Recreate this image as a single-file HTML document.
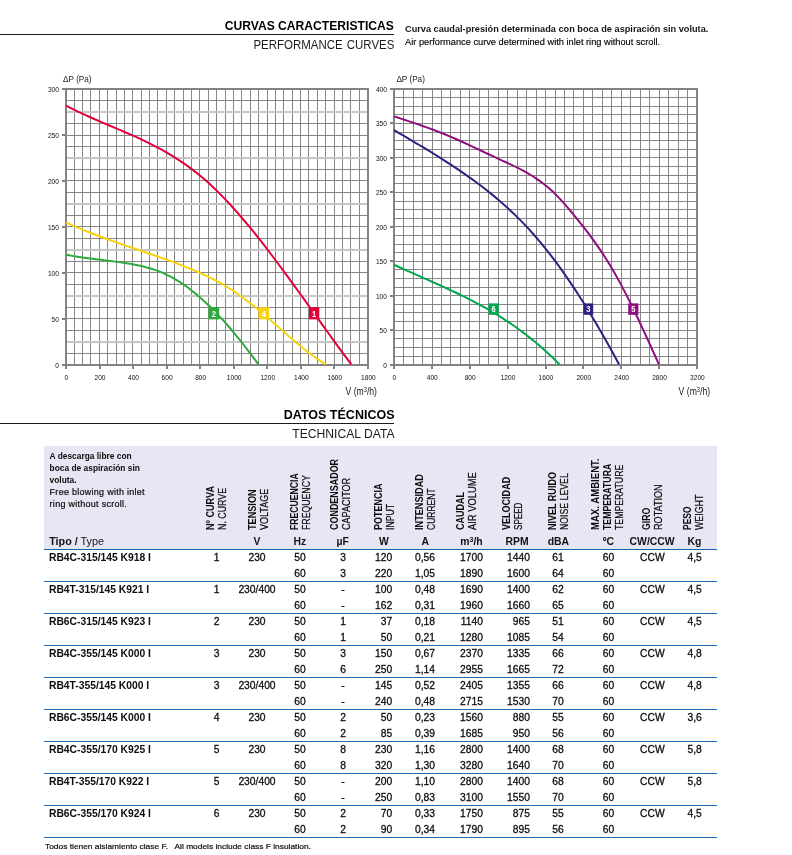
<!DOCTYPE html>
<html lang="es">
<head>
<meta charset="utf-8">
<title>Curvas características / Performance curves</title>
<style>
html,body{margin:0;padding:0;background:#fff;}
body{width:792px;height:855px;position:relative;overflow:hidden;font-family:"Liberation Sans",sans-serif;color:#111;}
.abs{position:absolute;white-space:nowrap;}
.h1{position:absolute;right:397.8px;font-weight:bold;font-size:12.6px;line-height:14px;color:#000;white-space:nowrap;transform-origin:100% 50%;}
.h2{position:absolute;right:397.8px;font-size:12.9px;line-height:14px;color:#1c1c1c;white-space:nowrap;transform-origin:100% 50%;}
.rule{position:absolute;left:0;width:394.3px;height:1.1px;background:#1a1a1a;}
.note{position:absolute;left:404.6px;font-size:9.9px;line-height:11px;white-space:nowrap;transform-origin:0 50%;color:#161616;}
svg text{font-family:"Liberation Sans",sans-serif;}
svg .tk{font-size:7.4px;fill:#111;}
svg .at{font-size:9.2px;fill:#1a1a1a;}
svg .at2{font-size:10.1px;fill:#1a1a1a;}
#tbl{position:absolute;left:44px;top:445.5px;width:673.2px;height:392.4px;}
#thead{position:absolute;left:0;top:0;width:673.2px;height:103.3px;background:#e6e6f4;}
#hrule{position:absolute;left:0;top:103.1px;width:673.2px;height:1.7px;background:#1263af;}
.tr{position:absolute;left:0;width:673.2px;height:1.1px;background:#1a6ab4;}
.td{position:absolute;font-size:10.3px;line-height:13px;height:13px;white-space:nowrap;color:#0c0c0c;-webkit-text-stroke:0.28px #0c0c0c;}
.td.b{-webkit-text-stroke:0;}
.b{font-weight:bold;}
.intro{position:absolute;left:5.6px;top:4.7px;font-size:9px;letter-spacing:0.27px;line-height:12px;color:#0c0c0c;white-space:nowrap;-webkit-text-stroke:0.2px #0c0c0c;}
.intro b{font-size:8.4px;letter-spacing:0;-webkit-text-stroke:0;}
.tipo{position:absolute;left:5.2px;top:89.6px;font-size:10.8px;line-height:13px;color:#141414;white-space:nowrap;}
.vt{position:absolute;font-size:10.4px;line-height:12px;height:12px;white-space:nowrap;transform-origin:0 0;transform:rotate(-90deg) scaleX(0.84);color:#0c0c0c;-webkit-text-stroke:0.22px #0c0c0c;}
.vt.b{-webkit-text-stroke:0;}
.un{position:absolute;top:89.6px;width:60px;text-align:center;font-weight:bold;font-size:10.4px;line-height:13px;color:#141414;white-space:nowrap;}
.un sup{font-size:7px;line-height:0;vertical-align:3.4px;}
.foot{position:absolute;left:44.7px;top:842.2px;font-size:7.9px;line-height:10px;color:#0c0c0c;white-space:pre;transform-origin:0 50%;transform:scaleX(1.062);-webkit-text-stroke:0.2px #0c0c0c;}
</style>
</head>
<body>
<div class="h1" style="top:18.6px;transform:scaleX(0.962)">CURVAS CARACTERISTICAS</div>
<div class="rule" style="top:34px"></div>
<div class="h2" style="top:38px;transform:scaleX(0.89);word-spacing:1px">PERFORMANCE CURVES</div>
<div class="note b" style="top:23.2px;transform:scaleX(0.929)">Curva caudal-presión determinada con boca de aspiración sin voluta.</div>
<div class="note" style="top:35.6px;transform:scaleX(0.937);color:#000;-webkit-text-stroke:0.15px #000">Air performance curve determined with inlet ring without scroll.</div>

<svg class="abs" style="left:0;top:0" width="792" height="400" viewBox="0 0 792 400">
<g id="chart1">
<path d="M74.5,89.0 V365.0 M82.5,89.0 V365.0 M90.5,89.0 V365.0 M99.5,89.0 V365.0 M107.5,89.0 V365.0 M116.5,89.0 V365.0 M124.5,89.0 V365.0 M132.5,89.0 V365.0 M141.5,89.0 V365.0 M149.5,89.0 V365.0 M157.5,89.0 V365.0 M166.5,89.0 V365.0 M174.5,89.0 V365.0 M183.5,89.0 V365.0 M191.5,89.0 V365.0 M199.5,89.0 V365.0 M208.5,89.0 V365.0 M216.5,89.0 V365.0 M225.5,89.0 V365.0 M233.5,89.0 V365.0 M241.5,89.0 V365.0 M250.5,89.0 V365.0 M258.5,89.0 V365.0 M267.5,89.0 V365.0 M275.5,89.0 V365.0 M283.5,89.0 V365.0 M292.5,89.0 V365.0 M300.5,89.0 V365.0 M308.5,89.0 V365.0 M317.5,89.0 V365.0 M325.5,89.0 V365.0 M334.5,89.0 V365.0 M342.5,89.0 V365.0 M350.5,89.0 V365.0 M359.5,89.0 V365.0 M66.0,100.5 H368.0 M66.0,123.5 H368.0 M66.0,135.5 H368.0 M66.0,146.5 H368.0 M66.0,169.5 H368.0 M66.0,180.5 H368.0 M66.0,192.5 H368.0 M66.0,215.5 H368.0 M66.0,226.5 H368.0 M66.0,238.5 H368.0 M66.0,261.5 H368.0 M66.0,272.5 H368.0 M66.0,284.5 H368.0 M66.0,307.5 H368.0 M66.0,318.5 H368.0 M66.0,330.5 H368.0 M66.0,353.5 H368.0" stroke="#868686" stroke-width="1" fill="none"/>
<path d="M66.0,112.0 H368.0 M66.0,158.0 H368.0 M66.0,204.0 H368.0 M66.0,250.0 H368.0 M66.0,296.0 H368.0 M66.0,342.0 H368.0" stroke="#c6c6c6" stroke-width="2" fill="none"/>
<path d="M66.0,89.0 H368.0 V365.0 H66.0 Z M66.0,365.0 V369.0 M100.0,365.0 V369.0 M133.0,365.0 V369.0 M167.0,365.0 V369.0 M200.0,365.0 V369.0 M234.0,365.0 V369.0 M267.0,365.0 V369.0 M301.0,365.0 V369.0 M334.0,365.0 V369.0 M368.0,365.0 V369.0 M62.0,365.0 H66.0 M62.0,319.0 H66.0 M62.0,273.0 H66.0 M62.0,227.0 H66.0 M62.0,181.0 H66.0 M62.0,135.0 H66.0 M62.0,89.0 H66.0" stroke="#838383" stroke-width="2" fill="none" stroke-linejoin="miter"/>
<path d="M66.10,105.60 C67.32,106.23 70.98,108.14 73.41,109.35 C75.85,110.57 78.29,111.74 80.73,112.89 C83.16,114.05 85.60,115.16 88.04,116.26 C90.48,117.37 92.91,118.44 95.35,119.50 C97.79,120.57 100.23,121.61 102.66,122.65 C105.10,123.69 107.54,124.72 109.98,125.75 C112.41,126.78 114.85,127.81 117.29,128.84 C119.73,129.88 122.16,130.91 124.60,131.96 C127.04,133.01 129.48,134.07 131.92,135.15 C134.35,136.23 136.79,137.33 139.23,138.46 C141.67,139.58 144.10,140.73 146.54,141.91 C148.98,143.09 151.42,144.30 153.85,145.56 C156.29,146.81 158.73,148.10 161.17,149.44 C163.60,150.78 166.04,152.15 168.48,153.59 C170.92,155.03 173.35,156.51 175.79,158.05 C178.23,159.60 180.67,161.20 183.11,162.87 C185.54,164.55 187.98,166.28 190.42,168.09 C192.86,169.90 195.29,171.78 197.73,173.74 C200.17,175.70 202.61,177.74 205.04,179.86 C207.48,181.99 209.92,184.20 212.36,186.49 C214.79,188.78 217.23,191.16 219.67,193.60 C222.11,196.05 224.54,198.58 226.98,201.17 C229.42,203.76 231.86,206.42 234.29,209.14 C236.73,211.86 239.17,214.66 241.61,217.50 C244.05,220.34 246.48,223.25 248.92,226.20 C251.36,229.15 253.80,232.16 256.23,235.21 C258.67,238.26 261.11,241.36 263.55,244.49 C265.98,247.62 268.42,250.80 270.86,254.01 C273.30,257.22 275.73,260.47 278.17,263.74 C280.61,267.01 283.05,270.31 285.48,273.63 C287.92,276.95 290.36,280.29 292.80,283.65 C295.24,287.01 297.67,290.39 300.11,293.77 C302.55,297.16 304.99,300.56 307.42,303.96 C309.86,307.36 312.30,310.77 314.74,314.17 C317.17,317.57 319.61,320.98 322.05,324.37 C324.49,327.77 326.92,331.16 329.36,334.53 C331.80,337.91 334.24,341.27 336.67,344.61 C339.11,347.96 341.55,351.28 343.99,354.58 C346.42,357.88 350.08,362.76 351.30,364.40" stroke="#e2003b" stroke-width="2.0" fill="none" stroke-linecap="butt"/>
<path d="M66.10,222.60 C67.21,223.10 70.54,224.61 72.76,225.58 C74.98,226.56 77.20,227.50 79.42,228.43 C81.64,229.36 83.86,230.26 86.08,231.15 C88.31,232.04 90.53,232.91 92.75,233.76 C94.97,234.62 97.19,235.46 99.41,236.28 C101.63,237.11 103.85,237.92 106.07,238.72 C108.29,239.52 110.51,240.31 112.73,241.09 C114.95,241.87 117.17,242.65 119.39,243.41 C121.61,244.18 123.83,244.94 126.05,245.70 C128.27,246.46 130.49,247.21 132.72,247.96 C134.94,248.72 137.16,249.47 139.38,250.22 C141.60,250.98 143.82,251.73 146.04,252.49 C148.26,253.25 150.48,254.01 152.70,254.77 C154.92,255.54 157.14,256.32 159.36,257.10 C161.58,257.88 163.80,258.67 166.02,259.47 C168.24,260.28 170.46,261.09 172.68,261.92 C174.91,262.74 177.13,263.58 179.35,264.44 C181.57,265.30 183.79,266.17 186.01,267.06 C188.23,267.95 190.45,268.86 192.67,269.79 C194.89,270.72 197.11,271.66 199.33,272.64 C201.55,273.62 203.77,274.61 205.99,275.65 C208.21,276.69 210.43,277.75 212.65,278.88 C214.87,280.00 217.09,281.16 219.32,282.38 C221.54,283.61 223.76,284.88 225.98,286.23 C228.20,287.57 230.42,288.98 232.64,290.44 C234.86,291.91 237.08,293.44 239.30,295.01 C241.52,296.59 243.74,298.22 245.96,299.90 C248.18,301.57 250.40,303.30 252.62,305.07 C254.84,306.84 257.06,308.66 259.28,310.51 C261.51,312.36 263.73,314.25 265.95,316.16 C268.17,318.07 270.39,320.02 272.61,321.97 C274.83,323.91 277.05,325.88 279.27,327.84 C281.49,329.79 283.71,331.76 285.93,333.70 C288.15,335.64 290.37,337.58 292.59,339.48 C294.81,341.38 297.03,343.26 299.25,345.09 C301.47,346.93 303.69,348.73 305.92,350.47 C308.14,352.21 310.36,353.91 312.58,355.53 C314.80,357.16 317.02,358.72 319.24,360.20 C321.46,361.68 324.79,363.70 325.90,364.40" stroke="#f8d40e" stroke-width="2.0" fill="none" stroke-linecap="butt"/>
<path d="M66.10,254.70 C66.92,254.86 69.39,255.35 71.03,255.64 C72.67,255.94 74.32,256.22 75.96,256.49 C77.61,256.76 79.25,257.01 80.89,257.25 C82.54,257.50 84.18,257.73 85.82,257.95 C87.47,258.17 89.11,258.39 90.75,258.60 C92.40,258.81 94.04,259.01 95.68,259.21 C97.33,259.41 98.97,259.61 100.62,259.80 C102.26,260.00 103.90,260.19 105.55,260.39 C107.19,260.59 108.83,260.79 110.48,260.99 C112.12,261.20 113.76,261.41 115.41,261.63 C117.05,261.84 118.69,262.07 120.34,262.30 C121.98,262.54 123.63,262.78 125.27,263.04 C126.91,263.29 128.56,263.56 130.20,263.85 C131.84,264.13 133.49,264.43 135.13,264.75 C136.77,265.07 138.42,265.41 140.06,265.77 C141.71,266.14 143.35,266.52 144.99,266.94 C146.64,267.36 148.28,267.81 149.92,268.29 C151.57,268.78 153.21,269.30 154.85,269.87 C156.50,270.43 158.14,271.04 159.78,271.69 C161.43,272.35 163.07,273.05 164.72,273.81 C166.36,274.56 168.00,275.36 169.65,276.21 C171.29,277.06 172.93,277.96 174.58,278.91 C176.22,279.86 177.86,280.85 179.51,281.90 C181.15,282.95 182.79,284.05 184.44,285.19 C186.08,286.34 187.73,287.53 189.37,288.77 C191.01,290.01 192.66,291.30 194.30,292.63 C195.94,293.96 197.59,295.34 199.23,296.76 C200.87,298.18 202.52,299.65 204.16,301.15 C205.81,302.66 207.45,304.21 209.09,305.80 C210.74,307.39 212.38,309.02 214.02,310.69 C215.67,312.36 217.31,314.08 218.95,315.82 C220.60,317.57 222.24,319.36 223.88,321.19 C225.53,323.01 227.17,324.87 228.82,326.77 C230.46,328.66 232.10,330.60 233.75,332.56 C235.39,334.53 237.03,336.53 238.68,338.56 C240.32,340.59 241.96,342.66 243.61,344.75 C245.25,346.85 246.89,348.97 248.54,351.13 C250.18,353.28 251.83,355.47 253.47,357.68 C255.11,359.89 257.58,363.28 258.40,364.40" stroke="#2eab3c" stroke-width="2.0" fill="none" stroke-linecap="butt"/>
<rect x="208.50" y="307.20" width="10.70" height="12.20" fill="#2eab3c"/>
<text transform="translate(213.85,316.50) scale(0.84,1)" text-anchor="middle" font-size="9" font-weight="bold" fill="#fff">2</text>
<rect x="258.50" y="307.20" width="10.60" height="12.20" fill="#f8d40e"/>
<text transform="translate(263.80,316.50) scale(0.84,1)" text-anchor="middle" font-size="9" font-weight="bold" fill="#fff">4</text>
<rect x="309.00" y="307.20" width="10.30" height="12.20" fill="#e2003b"/>
<text transform="translate(314.15,316.50) scale(0.84,1)" text-anchor="middle" font-size="9" font-weight="bold" fill="#fff">1</text>
<text transform="translate(66.40,379.90) scale(0.89,1)" text-anchor="middle" class="tk">0</text>
<text transform="translate(99.96,379.90) scale(0.89,1)" text-anchor="middle" class="tk">200</text>
<text transform="translate(133.51,379.90) scale(0.89,1)" text-anchor="middle" class="tk">400</text>
<text transform="translate(167.07,379.90) scale(0.89,1)" text-anchor="middle" class="tk">600</text>
<text transform="translate(200.62,379.90) scale(0.89,1)" text-anchor="middle" class="tk">800</text>
<text transform="translate(234.18,379.90) scale(0.89,1)" text-anchor="middle" class="tk">1000</text>
<text transform="translate(267.73,379.90) scale(0.89,1)" text-anchor="middle" class="tk">1200</text>
<text transform="translate(301.29,379.90) scale(0.89,1)" text-anchor="middle" class="tk">1400</text>
<text transform="translate(334.84,379.90) scale(0.89,1)" text-anchor="middle" class="tk">1600</text>
<text transform="translate(368.40,379.90) scale(0.89,1)" text-anchor="middle" class="tk">1800</text>
<text transform="translate(58.90,367.70) scale(0.89,1)" text-anchor="end" class="tk">0</text>
<text transform="translate(58.90,321.70) scale(0.89,1)" text-anchor="end" class="tk">50</text>
<text transform="translate(58.90,275.70) scale(0.89,1)" text-anchor="end" class="tk">100</text>
<text transform="translate(58.90,229.70) scale(0.89,1)" text-anchor="end" class="tk">150</text>
<text transform="translate(58.90,183.70) scale(0.89,1)" text-anchor="end" class="tk">200</text>
<text transform="translate(58.90,137.70) scale(0.89,1)" text-anchor="end" class="tk">250</text>
<text transform="translate(58.90,91.70) scale(0.89,1)" text-anchor="end" class="tk">300</text>
<text transform="translate(63.10,81.50) scale(0.89,1)" class="at">ΔP (Pa)</text>
<text transform="translate(377.00,395.30) scale(0.857,1)" text-anchor="end" class="at2">V (m<tspan font-size="6.6" dy="-3.4">3</tspan><tspan dy="3.4">/h)</tspan></text>
</g>
<g id="chart2">
<path d="M403.5,89.0 V365.0 M413.5,89.0 V365.0 M422.5,89.0 V365.0 M432.5,89.0 V365.0 M441.5,89.0 V365.0 M450.5,89.0 V365.0 M460.5,89.0 V365.0 M469.5,89.0 V365.0 M479.5,89.0 V365.0 M488.5,89.0 V365.0 M498.5,89.0 V365.0 M507.5,89.0 V365.0 M517.5,89.0 V365.0 M526.5,89.0 V365.0 M536.5,89.0 V365.0 M545.5,89.0 V365.0 M555.5,89.0 V365.0 M564.5,89.0 V365.0 M573.5,89.0 V365.0 M583.5,89.0 V365.0 M592.5,89.0 V365.0 M602.5,89.0 V365.0 M611.5,89.0 V365.0 M621.5,89.0 V365.0 M630.5,89.0 V365.0 M640.5,89.0 V365.0 M649.5,89.0 V365.0 M659.5,89.0 V365.0 M668.5,89.0 V365.0 M678.5,89.0 V365.0 M687.5,89.0 V365.0 M394.0,97.5 H697.0 M394.0,106.5 H697.0 M394.0,114.5 H697.0 M394.0,123.5 H697.0 M394.0,132.5 H697.0 M394.0,140.5 H697.0 M394.0,149.5 H697.0 M394.0,157.5 H697.0 M394.0,166.5 H697.0 M394.0,175.5 H697.0 M394.0,183.5 H697.0 M394.0,192.5 H697.0 M394.0,201.5 H697.0 M394.0,209.5 H697.0 M394.0,218.5 H697.0 M394.0,226.5 H697.0 M394.0,235.5 H697.0 M394.0,244.5 H697.0 M394.0,252.5 H697.0 M394.0,261.5 H697.0 M394.0,269.5 H697.0 M394.0,278.5 H697.0 M394.0,287.5 H697.0 M394.0,295.5 H697.0 M394.0,304.5 H697.0 M394.0,312.5 H697.0 M394.0,321.5 H697.0 M394.0,330.5 H697.0 M394.0,338.5 H697.0 M394.0,347.5 H697.0 M394.0,356.5 H697.0" stroke="#868686" stroke-width="1" fill="none"/>
<path d="M394.0,89.0 H697.0 V365.0 H394.0 Z M394.0,365.0 V369.0 M432.0,365.0 V369.0 M470.0,365.0 V369.0 M508.0,365.0 V369.0 M546.0,365.0 V369.0 M583.0,365.0 V369.0 M621.0,365.0 V369.0 M659.0,365.0 V369.0 M697.0,365.0 V369.0 M390.0,365.0 H394.0 M390.0,330.0 H394.0 M390.0,296.0 H394.0 M390.0,261.0 H394.0 M390.0,227.0 H394.0 M390.0,192.0 H394.0 M390.0,158.0 H394.0 M390.0,123.0 H394.0 M390.0,89.0 H394.0" stroke="#838383" stroke-width="2" fill="none" stroke-linejoin="miter"/>
<path d="M394.10,116.40 C395.23,116.77 398.63,117.86 400.89,118.60 C403.15,119.33 405.42,120.08 407.68,120.83 C409.94,121.58 412.21,122.34 414.47,123.11 C416.73,123.88 419.00,124.66 421.26,125.45 C423.52,126.25 425.79,127.06 428.05,127.88 C430.31,128.71 432.58,129.55 434.84,130.41 C437.10,131.27 439.36,132.15 441.63,133.05 C443.89,133.95 446.15,134.88 448.42,135.83 C450.68,136.77 452.94,137.75 455.21,138.74 C457.47,139.73 459.73,140.74 462.00,141.76 C464.26,142.79 466.52,143.83 468.79,144.88 C471.05,145.93 473.31,146.99 475.58,148.06 C477.84,149.12 480.10,150.19 482.37,151.26 C484.63,152.34 486.89,153.41 489.16,154.48 C491.42,155.55 493.68,156.62 495.95,157.67 C498.21,158.73 500.47,159.77 502.74,160.82 C505.00,161.87 507.26,162.89 509.53,163.96 C511.79,165.02 514.05,166.08 516.32,167.20 C518.58,168.32 520.84,169.46 523.11,170.68 C525.37,171.90 527.63,173.15 529.89,174.51 C532.16,175.87 534.42,177.28 536.68,178.82 C538.95,180.35 541.21,181.97 543.47,183.73 C545.74,185.48 548.00,187.34 550.26,189.36 C552.53,191.37 554.79,193.54 557.05,195.83 C559.32,198.13 561.58,200.59 563.84,203.13 C566.11,205.66 568.37,208.34 570.63,211.04 C572.90,213.75 575.16,216.54 577.42,219.36 C579.69,222.17 581.95,225.02 584.21,227.94 C586.48,230.86 588.74,233.81 591.00,236.88 C593.27,239.95 595.53,243.08 597.79,246.35 C600.06,249.62 602.32,252.97 604.58,256.50 C606.85,260.02 609.11,263.66 611.37,267.48 C613.64,271.29 615.90,275.28 618.16,279.39 C620.42,283.50 622.69,287.78 624.95,292.15 C627.21,296.53 629.48,301.05 631.74,305.64 C634.00,310.24 636.27,314.96 638.53,319.73 C640.79,324.51 643.06,329.39 645.32,334.31 C647.58,339.22 649.85,344.22 652.11,349.24 C654.37,354.25 657.77,361.87 658.90,364.40" stroke="#8d0e7c" stroke-width="2.0" fill="none" stroke-linecap="butt"/>
<path d="M394.10,130.20 C395.06,130.76 397.95,132.45 399.87,133.57 C401.79,134.70 403.72,135.82 405.64,136.95 C407.56,138.08 409.48,139.21 411.41,140.35 C413.33,141.49 415.25,142.62 417.18,143.77 C419.10,144.92 421.02,146.06 422.95,147.22 C424.87,148.38 426.79,149.54 428.72,150.72 C430.64,151.89 432.56,153.07 434.48,154.27 C436.41,155.46 438.33,156.66 440.25,157.87 C442.18,159.08 444.10,160.31 446.02,161.55 C447.95,162.78 449.87,164.03 451.79,165.30 C453.72,166.56 455.64,167.84 457.56,169.14 C459.48,170.43 461.41,171.74 463.33,173.07 C465.25,174.40 467.18,175.74 469.10,177.10 C471.02,178.47 472.95,179.85 474.87,181.26 C476.79,182.67 478.72,184.09 480.64,185.55 C482.56,187.00 484.48,188.48 486.41,189.99 C488.33,191.50 490.25,193.04 492.18,194.61 C494.10,196.18 496.02,197.78 497.95,199.41 C499.87,201.05 501.79,202.72 503.72,204.42 C505.64,206.13 507.56,207.87 509.48,209.66 C511.41,211.45 513.33,213.27 515.25,215.14 C517.18,217.01 519.10,218.92 521.02,220.88 C522.95,222.85 524.87,224.85 526.79,226.91 C528.72,228.96 530.64,231.07 532.56,233.23 C534.48,235.38 536.41,237.59 538.33,239.86 C540.25,242.13 542.18,244.45 544.10,246.82 C546.02,249.20 547.95,251.63 549.87,254.11 C551.79,256.60 553.72,259.13 555.64,261.72 C557.56,264.31 559.48,266.95 561.41,269.64 C563.33,272.33 565.25,275.07 567.18,277.86 C569.10,280.66 571.02,283.50 572.95,286.39 C574.87,289.27 576.79,292.21 578.72,295.20 C580.64,298.18 582.56,301.21 584.48,304.29 C586.41,307.37 588.33,310.49 590.25,313.66 C592.18,316.83 594.10,320.04 596.02,323.30 C597.95,326.56 599.87,329.86 601.79,333.20 C603.72,336.54 605.64,339.93 607.56,343.36 C609.48,346.78 611.41,350.25 613.33,353.76 C615.25,357.27 618.14,362.63 619.10,364.40" stroke="#32207f" stroke-width="2.0" fill="none" stroke-linecap="butt"/>
<path d="M394.10,264.80 C394.81,265.13 396.93,266.10 398.34,266.75 C399.75,267.39 401.16,268.04 402.58,268.67 C403.99,269.31 405.40,269.95 406.82,270.58 C408.23,271.21 409.64,271.84 411.05,272.46 C412.47,273.09 413.88,273.72 415.29,274.34 C416.71,274.97 418.12,275.59 419.53,276.21 C420.94,276.83 422.36,277.46 423.77,278.08 C425.18,278.70 426.59,279.32 428.01,279.95 C429.42,280.57 430.83,281.20 432.25,281.83 C433.66,282.46 435.07,283.08 436.48,283.72 C437.90,284.35 439.31,284.98 440.72,285.62 C442.14,286.26 443.55,286.90 444.96,287.55 C446.37,288.20 447.79,288.85 449.20,289.50 C450.61,290.16 452.03,290.82 453.44,291.49 C454.85,292.15 456.26,292.82 457.68,293.50 C459.09,294.18 460.50,294.87 461.92,295.56 C463.33,296.25 464.74,296.95 466.15,297.66 C467.57,298.37 468.98,299.09 470.39,299.81 C471.81,300.54 473.22,301.27 474.63,302.02 C476.04,302.76 477.46,303.51 478.87,304.28 C480.28,305.04 481.69,305.82 483.11,306.60 C484.52,307.39 485.93,308.19 487.35,308.99 C488.76,309.80 490.17,310.62 491.58,311.46 C493.00,312.29 494.41,313.14 495.82,314.00 C497.24,314.86 498.65,315.73 500.06,316.62 C501.47,317.51 502.89,318.41 504.30,319.33 C505.71,320.24 507.13,321.17 508.54,322.12 C509.95,323.07 511.36,324.03 512.78,325.01 C514.19,325.99 515.60,326.99 517.02,328.00 C518.43,329.02 519.84,330.05 521.25,331.10 C522.67,332.15 524.08,333.22 525.49,334.30 C526.91,335.39 528.32,336.49 529.73,337.62 C531.14,338.75 532.56,339.89 533.97,341.06 C535.38,342.22 536.79,343.41 538.21,344.61 C539.62,345.82 541.03,347.05 542.45,348.30 C543.86,349.55 545.27,350.82 546.68,352.11 C548.10,353.41 549.51,354.73 550.92,356.07 C552.34,357.41 553.75,358.77 555.16,360.16 C556.57,361.55 558.69,363.69 559.40,364.40" stroke="#00a54f" stroke-width="2.0" fill="none" stroke-linecap="butt"/>
<rect x="488.60" y="303.40" width="10.10" height="11.40" fill="#00a54f"/>
<text transform="translate(493.65,312.30) scale(0.84,1)" text-anchor="middle" font-size="9" font-weight="bold" fill="#fff">6</text>
<rect x="583.30" y="303.40" width="9.90" height="11.40" fill="#32207f"/>
<text transform="translate(588.25,312.30) scale(0.84,1)" text-anchor="middle" font-size="9" font-weight="bold" fill="#fff">3</text>
<rect x="628.20" y="303.40" width="10.20" height="11.40" fill="#8d0e7c"/>
<text transform="translate(633.30,312.30) scale(0.84,1)" text-anchor="middle" font-size="9" font-weight="bold" fill="#fff">5</text>
<text transform="translate(394.40,379.90) scale(0.89,1)" text-anchor="middle" class="tk">0</text>
<text transform="translate(432.27,379.90) scale(0.89,1)" text-anchor="middle" class="tk">400</text>
<text transform="translate(470.15,379.90) scale(0.89,1)" text-anchor="middle" class="tk">800</text>
<text transform="translate(508.02,379.90) scale(0.89,1)" text-anchor="middle" class="tk">1200</text>
<text transform="translate(545.90,379.90) scale(0.89,1)" text-anchor="middle" class="tk">1600</text>
<text transform="translate(583.77,379.90) scale(0.89,1)" text-anchor="middle" class="tk">2000</text>
<text transform="translate(621.65,379.90) scale(0.89,1)" text-anchor="middle" class="tk">2400</text>
<text transform="translate(659.52,379.90) scale(0.89,1)" text-anchor="middle" class="tk">2800</text>
<text transform="translate(697.40,379.90) scale(0.89,1)" text-anchor="middle" class="tk">3200</text>
<text transform="translate(386.90,367.70) scale(0.89,1)" text-anchor="end" class="tk">0</text>
<text transform="translate(386.90,333.20) scale(0.89,1)" text-anchor="end" class="tk">50</text>
<text transform="translate(386.90,298.70) scale(0.89,1)" text-anchor="end" class="tk">100</text>
<text transform="translate(386.90,264.20) scale(0.89,1)" text-anchor="end" class="tk">150</text>
<text transform="translate(386.90,229.70) scale(0.89,1)" text-anchor="end" class="tk">200</text>
<text transform="translate(386.90,195.20) scale(0.89,1)" text-anchor="end" class="tk">250</text>
<text transform="translate(386.90,160.70) scale(0.89,1)" text-anchor="end" class="tk">300</text>
<text transform="translate(386.90,126.20) scale(0.89,1)" text-anchor="end" class="tk">350</text>
<text transform="translate(386.90,91.70) scale(0.89,1)" text-anchor="end" class="tk">400</text>
<text transform="translate(396.40,81.50) scale(0.89,1)" class="at">ΔP (Pa)</text>
<text transform="translate(710.10,395.30) scale(0.857,1)" text-anchor="end" class="at2">V (m<tspan font-size="6.6" dy="-3.4">3</tspan><tspan dy="3.4">/h)</tspan></text>
</g>
</svg>

<div class="h1" style="top:408.2px;transform:scaleX(0.993)">DATOS TÉCNICOS</div>
<div class="rule" style="top:423px"></div>
<div class="h2" style="top:426.6px;transform:scaleX(0.942)">TECHNICAL DATA</div>

<div id="tbl">
<div id="thead">
<div class="intro"><b>A descarga libre con<br>boca de aspiración sin<br>voluta.</b><br>Free blowing with inlet<br>ring without scroll.</div>
<div class="tipo"><b>Tipo /</b> Type</div>
<div class="vt b" style="left:160.5px;top:84.1px;transform:rotate(-90deg) scaleX(0.876)">Nº CURVA</div>
<div class="vt" style="left:172.5px;top:84.1px;transform:rotate(-90deg) scaleX(0.850)">N. CURVE</div>
<div class="vt b" style="left:202.8px;top:84.1px;transform:rotate(-90deg) scaleX(0.879)">TENSION</div>
<div class="vt" style="left:214.8px;top:84.1px;transform:rotate(-90deg) scaleX(0.867)">VOLTAGE</div>
<div class="vt b" style="left:244.5px;top:84.1px;transform:rotate(-90deg) scaleX(0.832)">FRECUENCIA</div>
<div class="vt" style="left:256.5px;top:84.1px;transform:rotate(-90deg) scaleX(0.840)">FREQUENCY</div>
<div class="vt b" style="left:285.4px;top:84.1px;transform:rotate(-90deg) scaleX(0.861)">CONDENSADOR</div>
<div class="vt" style="left:297.4px;top:84.1px;transform:rotate(-90deg) scaleX(0.874)">CAPACITOR</div>
<div class="vt b" style="left:329.1px;top:84.1px;transform:rotate(-90deg) scaleX(0.864)">POTENCIA</div>
<div class="vt" style="left:341.1px;top:84.1px;transform:rotate(-90deg) scaleX(0.840)">INPUT</div>
<div class="vt b" style="left:370.2px;top:84.1px;transform:rotate(-90deg) scaleX(0.880)">INTENSIDAD</div>
<div class="vt" style="left:382.2px;top:84.1px;transform:rotate(-90deg) scaleX(0.820)">CURRENT</div>
<div class="vt b" style="left:411.3px;top:84.1px;transform:rotate(-90deg) scaleX(0.868)">CAUDAL</div>
<div class="vt" style="left:423.3px;top:84.1px;transform:rotate(-90deg) scaleX(0.900)">AIR VOLUME</div>
<div class="vt b" style="left:456.7px;top:84.1px;transform:rotate(-90deg) scaleX(0.869)">VELOCIDAD</div>
<div class="vt" style="left:468.7px;top:84.1px;transform:rotate(-90deg) scaleX(0.780)">SPEED</div>
<div class="vt b" style="left:502.6px;top:84.1px;transform:rotate(-90deg) scaleX(0.867)">NIVEL RUIDO</div>
<div class="vt" style="left:514.6px;top:84.1px;transform:rotate(-90deg) scaleX(0.840)">NOISE LEVEL</div>
<div class="vt b" style="left:546.1px;top:84.1px;transform:rotate(-90deg) scaleX(0.922)">MAX. AMBIENT.</div>
<div class="vt b" style="left:558.1px;top:84.1px;transform:rotate(-90deg) scaleX(0.840)">TEMPERATURA</div>
<div class="vt" style="left:570.1px;top:84.1px;transform:rotate(-90deg) scaleX(0.840)">TEMPERATURE</div>
<div class="vt b" style="left:597.4px;top:84.1px;transform:rotate(-90deg) scaleX(0.840)">GIRO</div>
<div class="vt" style="left:609.4px;top:84.1px;transform:rotate(-90deg) scaleX(0.875)">ROTATION</div>
<div class="vt b" style="left:638.3px;top:84.1px;transform:rotate(-90deg) scaleX(0.815)">PESO</div>
<div class="vt" style="left:650.3px;top:84.1px;transform:rotate(-90deg) scaleX(0.850)">WEIGHT</div>
<div class="un" style="left:183.0px">V</div>
<div class="un" style="left:225.8px">Hz</div>
<div class="un" style="left:268.7px">µF</div>
<div class="un" style="left:310.0px">W</div>
<div class="un" style="left:351.3px">A</div>
<div class="un" style="left:397.5px">m<sup>3</sup>/h</div>
<div class="un" style="left:443.0px">RPM</div>
<div class="un" style="left:484.4px">dBA</div>
<div class="un" style="left:534.4px">ºC</div>
<div class="un" style="left:578.1px">CW/CCW</div>
<div class="un" style="left:620.5px">Kg</div>
</div>
<div id="hrule"></div>
<div class="tr" style="top:135.10px"></div>
<div class="td c-type b" style="left:0.0px;top:105.6px;width:146.0px;text-align:left;padding-left:5px;">RB4C-315/145 K918 I</div>
<div class="td c-n" style="left:152.0px;top:105.6px;width:41.0px;text-align:center;">1</div>
<div class="td c-v" style="left:193.0px;top:105.6px;width:40.0px;text-align:center;">230</div>
<div class="td c-hz" style="left:236.0px;top:105.6px;width:40.0px;text-align:center;">50</div>
<div class="td c-uf" style="left:279.0px;top:105.6px;width:40.0px;text-align:center;">3</div>
<div class="td c-w" style="left:319.0px;top:105.6px;width:29.2px;text-align:right;">120</div>
<div class="td c-a" style="left:361.0px;top:105.6px;width:40.0px;text-align:center;">0,56</div>
<div class="td c-m3" style="left:399.0px;top:105.6px;width:40.0px;text-align:right;">1700</div>
<div class="td c-rpm" style="left:446.0px;top:105.6px;width:40.0px;text-align:right;">1440</div>
<div class="td c-dba" style="left:494.0px;top:105.6px;width:40.0px;text-align:center;">61</div>
<div class="td c-c" style="left:544.5px;top:105.6px;width:40.0px;text-align:center;">60</div>
<div class="td c-rot" style="left:588.4px;top:105.6px;width:40.0px;text-align:center;">CCW</div>
<div class="td c-kg" style="left:630.6px;top:105.6px;width:40.0px;text-align:center;">4,5</div>
<div class="td c-hz" style="left:236.0px;top:121.6px;width:40.0px;text-align:center;">60</div>
<div class="td c-uf" style="left:279.0px;top:121.6px;width:40.0px;text-align:center;">3</div>
<div class="td c-w" style="left:319.0px;top:121.6px;width:29.2px;text-align:right;">220</div>
<div class="td c-a" style="left:361.0px;top:121.6px;width:40.0px;text-align:center;">1,05</div>
<div class="td c-m3" style="left:399.0px;top:121.6px;width:40.0px;text-align:right;">1890</div>
<div class="td c-rpm" style="left:446.0px;top:121.6px;width:40.0px;text-align:right;">1600</div>
<div class="td c-dba" style="left:494.0px;top:121.6px;width:40.0px;text-align:center;">64</div>
<div class="td c-c" style="left:544.5px;top:121.6px;width:40.0px;text-align:center;">60</div>
<div class="tr" style="top:167.10px"></div>
<div class="td c-type b" style="left:0.0px;top:137.6px;width:146.0px;text-align:left;padding-left:5px;">RB4T-315/145 K921 I</div>
<div class="td c-n" style="left:152.0px;top:137.6px;width:41.0px;text-align:center;">1</div>
<div class="td c-v" style="left:193.0px;top:137.6px;width:40.0px;text-align:center;">230/400</div>
<div class="td c-hz" style="left:236.0px;top:137.6px;width:40.0px;text-align:center;">50</div>
<div class="td c-uf" style="left:279.0px;top:137.6px;width:40.0px;text-align:center;">-</div>
<div class="td c-w" style="left:319.0px;top:137.6px;width:29.2px;text-align:right;">100</div>
<div class="td c-a" style="left:361.0px;top:137.6px;width:40.0px;text-align:center;">0,48</div>
<div class="td c-m3" style="left:399.0px;top:137.6px;width:40.0px;text-align:right;">1690</div>
<div class="td c-rpm" style="left:446.0px;top:137.6px;width:40.0px;text-align:right;">1400</div>
<div class="td c-dba" style="left:494.0px;top:137.6px;width:40.0px;text-align:center;">62</div>
<div class="td c-c" style="left:544.5px;top:137.6px;width:40.0px;text-align:center;">60</div>
<div class="td c-rot" style="left:588.4px;top:137.6px;width:40.0px;text-align:center;">CCW</div>
<div class="td c-kg" style="left:630.6px;top:137.6px;width:40.0px;text-align:center;">4,5</div>
<div class="td c-hz" style="left:236.0px;top:153.6px;width:40.0px;text-align:center;">60</div>
<div class="td c-uf" style="left:279.0px;top:153.6px;width:40.0px;text-align:center;">-</div>
<div class="td c-w" style="left:319.0px;top:153.6px;width:29.2px;text-align:right;">162</div>
<div class="td c-a" style="left:361.0px;top:153.6px;width:40.0px;text-align:center;">0,31</div>
<div class="td c-m3" style="left:399.0px;top:153.6px;width:40.0px;text-align:right;">1960</div>
<div class="td c-rpm" style="left:446.0px;top:153.6px;width:40.0px;text-align:right;">1660</div>
<div class="td c-dba" style="left:494.0px;top:153.6px;width:40.0px;text-align:center;">65</div>
<div class="td c-c" style="left:544.5px;top:153.6px;width:40.0px;text-align:center;">60</div>
<div class="tr" style="top:199.10px"></div>
<div class="td c-type b" style="left:0.0px;top:169.6px;width:146.0px;text-align:left;padding-left:5px;">RB6C-315/145 K923 I</div>
<div class="td c-n" style="left:152.0px;top:169.6px;width:41.0px;text-align:center;">2</div>
<div class="td c-v" style="left:193.0px;top:169.6px;width:40.0px;text-align:center;">230</div>
<div class="td c-hz" style="left:236.0px;top:169.6px;width:40.0px;text-align:center;">50</div>
<div class="td c-uf" style="left:279.0px;top:169.6px;width:40.0px;text-align:center;">1</div>
<div class="td c-w" style="left:319.0px;top:169.6px;width:29.2px;text-align:right;">37</div>
<div class="td c-a" style="left:361.0px;top:169.6px;width:40.0px;text-align:center;">0,18</div>
<div class="td c-m3" style="left:399.0px;top:169.6px;width:40.0px;text-align:right;">1140</div>
<div class="td c-rpm" style="left:446.0px;top:169.6px;width:40.0px;text-align:right;">965</div>
<div class="td c-dba" style="left:494.0px;top:169.6px;width:40.0px;text-align:center;">51</div>
<div class="td c-c" style="left:544.5px;top:169.6px;width:40.0px;text-align:center;">60</div>
<div class="td c-rot" style="left:588.4px;top:169.6px;width:40.0px;text-align:center;">CCW</div>
<div class="td c-kg" style="left:630.6px;top:169.6px;width:40.0px;text-align:center;">4,5</div>
<div class="td c-hz" style="left:236.0px;top:185.6px;width:40.0px;text-align:center;">60</div>
<div class="td c-uf" style="left:279.0px;top:185.6px;width:40.0px;text-align:center;">1</div>
<div class="td c-w" style="left:319.0px;top:185.6px;width:29.2px;text-align:right;">50</div>
<div class="td c-a" style="left:361.0px;top:185.6px;width:40.0px;text-align:center;">0,21</div>
<div class="td c-m3" style="left:399.0px;top:185.6px;width:40.0px;text-align:right;">1280</div>
<div class="td c-rpm" style="left:446.0px;top:185.6px;width:40.0px;text-align:right;">1085</div>
<div class="td c-dba" style="left:494.0px;top:185.6px;width:40.0px;text-align:center;">54</div>
<div class="td c-c" style="left:544.5px;top:185.6px;width:40.0px;text-align:center;">60</div>
<div class="tr" style="top:231.10px"></div>
<div class="td c-type b" style="left:0.0px;top:201.6px;width:146.0px;text-align:left;padding-left:5px;">RB4C-355/145 K000 I</div>
<div class="td c-n" style="left:152.0px;top:201.6px;width:41.0px;text-align:center;">3</div>
<div class="td c-v" style="left:193.0px;top:201.6px;width:40.0px;text-align:center;">230</div>
<div class="td c-hz" style="left:236.0px;top:201.6px;width:40.0px;text-align:center;">50</div>
<div class="td c-uf" style="left:279.0px;top:201.6px;width:40.0px;text-align:center;">3</div>
<div class="td c-w" style="left:319.0px;top:201.6px;width:29.2px;text-align:right;">150</div>
<div class="td c-a" style="left:361.0px;top:201.6px;width:40.0px;text-align:center;">0,67</div>
<div class="td c-m3" style="left:399.0px;top:201.6px;width:40.0px;text-align:right;">2370</div>
<div class="td c-rpm" style="left:446.0px;top:201.6px;width:40.0px;text-align:right;">1335</div>
<div class="td c-dba" style="left:494.0px;top:201.6px;width:40.0px;text-align:center;">66</div>
<div class="td c-c" style="left:544.5px;top:201.6px;width:40.0px;text-align:center;">60</div>
<div class="td c-rot" style="left:588.4px;top:201.6px;width:40.0px;text-align:center;">CCW</div>
<div class="td c-kg" style="left:630.6px;top:201.6px;width:40.0px;text-align:center;">4,8</div>
<div class="td c-hz" style="left:236.0px;top:217.6px;width:40.0px;text-align:center;">60</div>
<div class="td c-uf" style="left:279.0px;top:217.6px;width:40.0px;text-align:center;">6</div>
<div class="td c-w" style="left:319.0px;top:217.6px;width:29.2px;text-align:right;">250</div>
<div class="td c-a" style="left:361.0px;top:217.6px;width:40.0px;text-align:center;">1,14</div>
<div class="td c-m3" style="left:399.0px;top:217.6px;width:40.0px;text-align:right;">2955</div>
<div class="td c-rpm" style="left:446.0px;top:217.6px;width:40.0px;text-align:right;">1665</div>
<div class="td c-dba" style="left:494.0px;top:217.6px;width:40.0px;text-align:center;">72</div>
<div class="td c-c" style="left:544.5px;top:217.6px;width:40.0px;text-align:center;">60</div>
<div class="tr" style="top:263.10px"></div>
<div class="td c-type b" style="left:0.0px;top:233.6px;width:146.0px;text-align:left;padding-left:5px;">RB4T-355/145 K000 I</div>
<div class="td c-n" style="left:152.0px;top:233.6px;width:41.0px;text-align:center;">3</div>
<div class="td c-v" style="left:193.0px;top:233.6px;width:40.0px;text-align:center;">230/400</div>
<div class="td c-hz" style="left:236.0px;top:233.6px;width:40.0px;text-align:center;">50</div>
<div class="td c-uf" style="left:279.0px;top:233.6px;width:40.0px;text-align:center;">-</div>
<div class="td c-w" style="left:319.0px;top:233.6px;width:29.2px;text-align:right;">145</div>
<div class="td c-a" style="left:361.0px;top:233.6px;width:40.0px;text-align:center;">0,52</div>
<div class="td c-m3" style="left:399.0px;top:233.6px;width:40.0px;text-align:right;">2405</div>
<div class="td c-rpm" style="left:446.0px;top:233.6px;width:40.0px;text-align:right;">1355</div>
<div class="td c-dba" style="left:494.0px;top:233.6px;width:40.0px;text-align:center;">66</div>
<div class="td c-c" style="left:544.5px;top:233.6px;width:40.0px;text-align:center;">60</div>
<div class="td c-rot" style="left:588.4px;top:233.6px;width:40.0px;text-align:center;">CCW</div>
<div class="td c-kg" style="left:630.6px;top:233.6px;width:40.0px;text-align:center;">4,8</div>
<div class="td c-hz" style="left:236.0px;top:249.6px;width:40.0px;text-align:center;">60</div>
<div class="td c-uf" style="left:279.0px;top:249.6px;width:40.0px;text-align:center;">-</div>
<div class="td c-w" style="left:319.0px;top:249.6px;width:29.2px;text-align:right;">240</div>
<div class="td c-a" style="left:361.0px;top:249.6px;width:40.0px;text-align:center;">0,48</div>
<div class="td c-m3" style="left:399.0px;top:249.6px;width:40.0px;text-align:right;">2715</div>
<div class="td c-rpm" style="left:446.0px;top:249.6px;width:40.0px;text-align:right;">1530</div>
<div class="td c-dba" style="left:494.0px;top:249.6px;width:40.0px;text-align:center;">70</div>
<div class="td c-c" style="left:544.5px;top:249.6px;width:40.0px;text-align:center;">60</div>
<div class="tr" style="top:295.10px"></div>
<div class="td c-type b" style="left:0.0px;top:265.6px;width:146.0px;text-align:left;padding-left:5px;">RB6C-355/145 K000 I</div>
<div class="td c-n" style="left:152.0px;top:265.6px;width:41.0px;text-align:center;">4</div>
<div class="td c-v" style="left:193.0px;top:265.6px;width:40.0px;text-align:center;">230</div>
<div class="td c-hz" style="left:236.0px;top:265.6px;width:40.0px;text-align:center;">50</div>
<div class="td c-uf" style="left:279.0px;top:265.6px;width:40.0px;text-align:center;">2</div>
<div class="td c-w" style="left:319.0px;top:265.6px;width:29.2px;text-align:right;">50</div>
<div class="td c-a" style="left:361.0px;top:265.6px;width:40.0px;text-align:center;">0,23</div>
<div class="td c-m3" style="left:399.0px;top:265.6px;width:40.0px;text-align:right;">1560</div>
<div class="td c-rpm" style="left:446.0px;top:265.6px;width:40.0px;text-align:right;">880</div>
<div class="td c-dba" style="left:494.0px;top:265.6px;width:40.0px;text-align:center;">55</div>
<div class="td c-c" style="left:544.5px;top:265.6px;width:40.0px;text-align:center;">60</div>
<div class="td c-rot" style="left:588.4px;top:265.6px;width:40.0px;text-align:center;">CCW</div>
<div class="td c-kg" style="left:630.6px;top:265.6px;width:40.0px;text-align:center;">3,6</div>
<div class="td c-hz" style="left:236.0px;top:281.6px;width:40.0px;text-align:center;">60</div>
<div class="td c-uf" style="left:279.0px;top:281.6px;width:40.0px;text-align:center;">2</div>
<div class="td c-w" style="left:319.0px;top:281.6px;width:29.2px;text-align:right;">85</div>
<div class="td c-a" style="left:361.0px;top:281.6px;width:40.0px;text-align:center;">0,39</div>
<div class="td c-m3" style="left:399.0px;top:281.6px;width:40.0px;text-align:right;">1685</div>
<div class="td c-rpm" style="left:446.0px;top:281.6px;width:40.0px;text-align:right;">950</div>
<div class="td c-dba" style="left:494.0px;top:281.6px;width:40.0px;text-align:center;">56</div>
<div class="td c-c" style="left:544.5px;top:281.6px;width:40.0px;text-align:center;">60</div>
<div class="tr" style="top:327.10px"></div>
<div class="td c-type b" style="left:0.0px;top:297.6px;width:146.0px;text-align:left;padding-left:5px;">RB4C-355/170 K925 I</div>
<div class="td c-n" style="left:152.0px;top:297.6px;width:41.0px;text-align:center;">5</div>
<div class="td c-v" style="left:193.0px;top:297.6px;width:40.0px;text-align:center;">230</div>
<div class="td c-hz" style="left:236.0px;top:297.6px;width:40.0px;text-align:center;">50</div>
<div class="td c-uf" style="left:279.0px;top:297.6px;width:40.0px;text-align:center;">8</div>
<div class="td c-w" style="left:319.0px;top:297.6px;width:29.2px;text-align:right;">230</div>
<div class="td c-a" style="left:361.0px;top:297.6px;width:40.0px;text-align:center;">1,16</div>
<div class="td c-m3" style="left:399.0px;top:297.6px;width:40.0px;text-align:right;">2800</div>
<div class="td c-rpm" style="left:446.0px;top:297.6px;width:40.0px;text-align:right;">1400</div>
<div class="td c-dba" style="left:494.0px;top:297.6px;width:40.0px;text-align:center;">68</div>
<div class="td c-c" style="left:544.5px;top:297.6px;width:40.0px;text-align:center;">60</div>
<div class="td c-rot" style="left:588.4px;top:297.6px;width:40.0px;text-align:center;">CCW</div>
<div class="td c-kg" style="left:630.6px;top:297.6px;width:40.0px;text-align:center;">5,8</div>
<div class="td c-hz" style="left:236.0px;top:313.6px;width:40.0px;text-align:center;">60</div>
<div class="td c-uf" style="left:279.0px;top:313.6px;width:40.0px;text-align:center;">8</div>
<div class="td c-w" style="left:319.0px;top:313.6px;width:29.2px;text-align:right;">320</div>
<div class="td c-a" style="left:361.0px;top:313.6px;width:40.0px;text-align:center;">1,30</div>
<div class="td c-m3" style="left:399.0px;top:313.6px;width:40.0px;text-align:right;">3280</div>
<div class="td c-rpm" style="left:446.0px;top:313.6px;width:40.0px;text-align:right;">1640</div>
<div class="td c-dba" style="left:494.0px;top:313.6px;width:40.0px;text-align:center;">70</div>
<div class="td c-c" style="left:544.5px;top:313.6px;width:40.0px;text-align:center;">60</div>
<div class="tr" style="top:359.10px"></div>
<div class="td c-type b" style="left:0.0px;top:329.6px;width:146.0px;text-align:left;padding-left:5px;">RB4T-355/170 K922 I</div>
<div class="td c-n" style="left:152.0px;top:329.6px;width:41.0px;text-align:center;">5</div>
<div class="td c-v" style="left:193.0px;top:329.6px;width:40.0px;text-align:center;">230/400</div>
<div class="td c-hz" style="left:236.0px;top:329.6px;width:40.0px;text-align:center;">50</div>
<div class="td c-uf" style="left:279.0px;top:329.6px;width:40.0px;text-align:center;">-</div>
<div class="td c-w" style="left:319.0px;top:329.6px;width:29.2px;text-align:right;">200</div>
<div class="td c-a" style="left:361.0px;top:329.6px;width:40.0px;text-align:center;">1,10</div>
<div class="td c-m3" style="left:399.0px;top:329.6px;width:40.0px;text-align:right;">2800</div>
<div class="td c-rpm" style="left:446.0px;top:329.6px;width:40.0px;text-align:right;">1400</div>
<div class="td c-dba" style="left:494.0px;top:329.6px;width:40.0px;text-align:center;">68</div>
<div class="td c-c" style="left:544.5px;top:329.6px;width:40.0px;text-align:center;">60</div>
<div class="td c-rot" style="left:588.4px;top:329.6px;width:40.0px;text-align:center;">CCW</div>
<div class="td c-kg" style="left:630.6px;top:329.6px;width:40.0px;text-align:center;">5,8</div>
<div class="td c-hz" style="left:236.0px;top:345.6px;width:40.0px;text-align:center;">60</div>
<div class="td c-uf" style="left:279.0px;top:345.6px;width:40.0px;text-align:center;">-</div>
<div class="td c-w" style="left:319.0px;top:345.6px;width:29.2px;text-align:right;">250</div>
<div class="td c-a" style="left:361.0px;top:345.6px;width:40.0px;text-align:center;">0,83</div>
<div class="td c-m3" style="left:399.0px;top:345.6px;width:40.0px;text-align:right;">3100</div>
<div class="td c-rpm" style="left:446.0px;top:345.6px;width:40.0px;text-align:right;">1550</div>
<div class="td c-dba" style="left:494.0px;top:345.6px;width:40.0px;text-align:center;">70</div>
<div class="td c-c" style="left:544.5px;top:345.6px;width:40.0px;text-align:center;">60</div>
<div class="tr" style="top:391.10px"></div>
<div class="td c-type b" style="left:0.0px;top:361.6px;width:146.0px;text-align:left;padding-left:5px;">RB6C-355/170 K924 I</div>
<div class="td c-n" style="left:152.0px;top:361.6px;width:41.0px;text-align:center;">6</div>
<div class="td c-v" style="left:193.0px;top:361.6px;width:40.0px;text-align:center;">230</div>
<div class="td c-hz" style="left:236.0px;top:361.6px;width:40.0px;text-align:center;">50</div>
<div class="td c-uf" style="left:279.0px;top:361.6px;width:40.0px;text-align:center;">2</div>
<div class="td c-w" style="left:319.0px;top:361.6px;width:29.2px;text-align:right;">70</div>
<div class="td c-a" style="left:361.0px;top:361.6px;width:40.0px;text-align:center;">0,33</div>
<div class="td c-m3" style="left:399.0px;top:361.6px;width:40.0px;text-align:right;">1750</div>
<div class="td c-rpm" style="left:446.0px;top:361.6px;width:40.0px;text-align:right;">875</div>
<div class="td c-dba" style="left:494.0px;top:361.6px;width:40.0px;text-align:center;">55</div>
<div class="td c-c" style="left:544.5px;top:361.6px;width:40.0px;text-align:center;">60</div>
<div class="td c-rot" style="left:588.4px;top:361.6px;width:40.0px;text-align:center;">CCW</div>
<div class="td c-kg" style="left:630.6px;top:361.6px;width:40.0px;text-align:center;">4,5</div>
<div class="td c-hz" style="left:236.0px;top:377.6px;width:40.0px;text-align:center;">60</div>
<div class="td c-uf" style="left:279.0px;top:377.6px;width:40.0px;text-align:center;">2</div>
<div class="td c-w" style="left:319.0px;top:377.6px;width:29.2px;text-align:right;">90</div>
<div class="td c-a" style="left:361.0px;top:377.6px;width:40.0px;text-align:center;">0,34</div>
<div class="td c-m3" style="left:399.0px;top:377.6px;width:40.0px;text-align:right;">1790</div>
<div class="td c-rpm" style="left:446.0px;top:377.6px;width:40.0px;text-align:right;">895</div>
<div class="td c-dba" style="left:494.0px;top:377.6px;width:40.0px;text-align:center;">56</div>
<div class="td c-c" style="left:544.5px;top:377.6px;width:40.0px;text-align:center;">60</div>
</div>
<div class="foot">Todos tienen aislamiento clase F.   All models include class F insulation.</div>
</body>
</html>
